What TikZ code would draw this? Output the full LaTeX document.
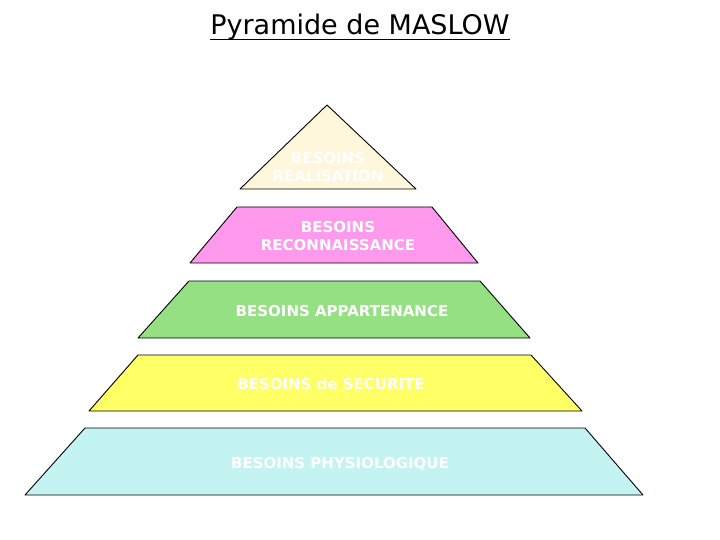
\documentclass[tikz,border=0pt]{standalone}
\usepackage{fontspec}
\setsansfont{DejaVu Sans}
\definecolor{realisfill}{RGB}{255,247,220}
\definecolor{reconfill}{RGB}{255,153,238}
\definecolor{appartfill}{RGB}{150,224,132}
\definecolor{securfill}{RGB}{255,255,102}
\definecolor{physiofill}{RGB}{196,244,242}
\begin{document}
\begin{tikzpicture}[x=1pt,y=-1pt,
  stage/.style={line width=0.9pt, black, line join=round},
  lbl/.style={text=white, font=\sffamily\bfseries\fontsize{15}{18}\selectfont, align=center, inner sep=0pt}]
\useasboundingbox (0,0) rectangle (720,540);
\node[inner sep=0pt, font=\sffamily\fontsize{27}{30}\selectfont] (title) at (360,27) {Pyramide de MASLOW};
\draw[line width=1.8pt] ([yshift=-5pt]title.base west) -- ([yshift=-5pt]title.base east);
% sommet
\filldraw[stage, fill=realisfill] (327,105) -- (416,189) -- (240,189) -- cycle;
\node[lbl] (realis) at (328,167) {BESOINS\\REALISATION};
% etages
\filldraw[stage, fill=reconfill] (237,207) -- (432,207) -- (478,263) -- (190,263) -- cycle;
\node[lbl] (recon) at (338,236) {BESOINS\\RECONNAISSANCE};
\filldraw[stage, fill=appartfill] (189,281) -- (480,281) -- (530,338) -- (138,338) -- cycle;
\node[lbl] (appart) at (342,311) {BESOINS APPARTENANCE};
\filldraw[stage, fill=securfill] (138,355) -- (531,355) -- (582,411) -- (89,411) -- cycle;
\node[lbl] (secur) at (331,384) {BESOINS de SECURITE};
% base
\filldraw[stage, fill=physiofill] (85,428) -- (585,428) -- (643,495) -- (25,495) -- cycle;
\node[lbl] (physio) at (340,464) {BESOINS PHYSIOLOGIQUE};
\end{tikzpicture}
\end{document}
